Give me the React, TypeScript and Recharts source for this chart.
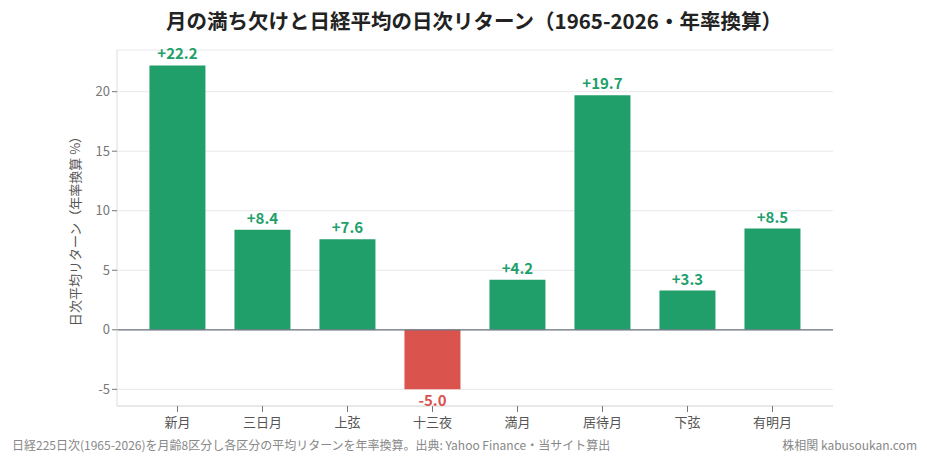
import { Bar, BarChart, CartesianGrid, Cell, LabelList, ReferenceLine, XAxis, YAxis } from "recharts";

const phases = ["新月", "三日月", "上弦", "十三夜", "満月", "居待月", "下弦", "有明月"];
const returns = [22.2, 8.4, 7.6, -5.0, 4.2, 19.7, 3.3, 8.5];
const yTicks = [-5, 0, 5, 10, 15, 20];

const GREEN = "#219f6b";
const RED = "#db534d";
const FONT = "'Noto Sans CJK JP', 'Noto Sans', sans-serif";

const chartData = phases.map((name, i) => ({ name, value: returns[i] }));

function ValueLabel(props: any) {
  const { x, y, width, height, value } = props;
  const neg = value < 0;
  const cx = x + width / 2;
  // negative bars: height can be negative, so take min/max
  const bottom = Math.max(y, y + height);
  const top = Math.min(y, y + height);
  return (
    <text
      x={cx}
      y={neg ? bottom + 17 : top - 6}
      textAnchor="middle"
      fill={neg ? RED : GREEN}
      fontSize={15}
      fontWeight={700}
      fontFamily={FONT}
    >
      {neg ? value.toFixed(1) : `+${value.toFixed(1)}`}
    </text>
  );
}

function YLabel(props: any) {
  const { viewBox } = props;
  const cy = viewBox.y + viewBox.height / 2;
  return (
    <text
      x={80}
      y={cy}
      transform={`rotate(-90, 80, ${cy})`}
      textAnchor="middle"
      fill="#555"
      fontSize={13}
      fontFamily={FONT}
    >
      日次平均リターン（年率換算 %）
    </text>
  );
}

export default function App() {
  return (
    <div style={{ position: "relative", width: 927, height: 463, background: "#fff", fontFamily: FONT }}>
      <style>{`body{margin:0}`}</style>
      <div
        style={{
          position: "absolute",
          left: 0,
          width: 948,
          top: 5,
          textAlign: "center",
          fontSize: 20.5,
          fontWeight: 700,
          color: "#222",
        }}
      >
        月の満ち欠けと日経平均の日次リターン（1965-2026・年率換算）
      </div>
      <BarChart
        width={927}
        height={463}
        data={chartData}
        margin={{ top: 50, right: 94, left: 0, bottom: 27 }}
        barCategoryGap="17%"
      >
        <CartesianGrid vertical={false} stroke="#e8e8ec" />
        <XAxis
          dataKey="name"
          interval={0}
          height={30}
          padding={{ left: 18, right: 18 }}
          tick={{ fill: "#555", fontSize: 13, fontFamily: FONT }}
          tickLine={{ stroke: "#777" }}
          tickSize={6}
          axisLine={{ stroke: "#ddd" }}
          tickMargin={6}
        />
        <YAxis
          width={117}
          domain={[-6.4, 23.5]}
          ticks={yTicks}
          allowDataOverflow
          tick={{ fill: "#777", fontSize: 13, fontFamily: FONT }}
          tickLine={{ stroke: "#777" }}
          tickSize={5}
          axisLine={{ stroke: "#ddd" }}
          label={<YLabel />}
        />
        <ReferenceLine y={0} stroke="#6b7280" strokeWidth={1.2} />
        <Bar dataKey="value" isAnimationActive={false}>
          {chartData.map((d) => (
            <Cell key={d.name} fill={d.value < 0 ? RED : GREEN} />
          ))}
          <LabelList dataKey="value" content={<ValueLabel />} />
        </Bar>
      </BarChart>
      <div style={{ position: "absolute", left: 12, top: 436, fontSize: 12, color: "#888" }}>
        日経225日次(1965-2026)を月齢8区分し各区分の平均リターンを年率換算。出典: Yahoo Finance・当サイト算出
      </div>
      <div style={{ position: "absolute", right: 10, top: 436, fontSize: 12, color: "#888" }}>
        株相関 kabusoukan.com
      </div>
    </div>
  );
}
